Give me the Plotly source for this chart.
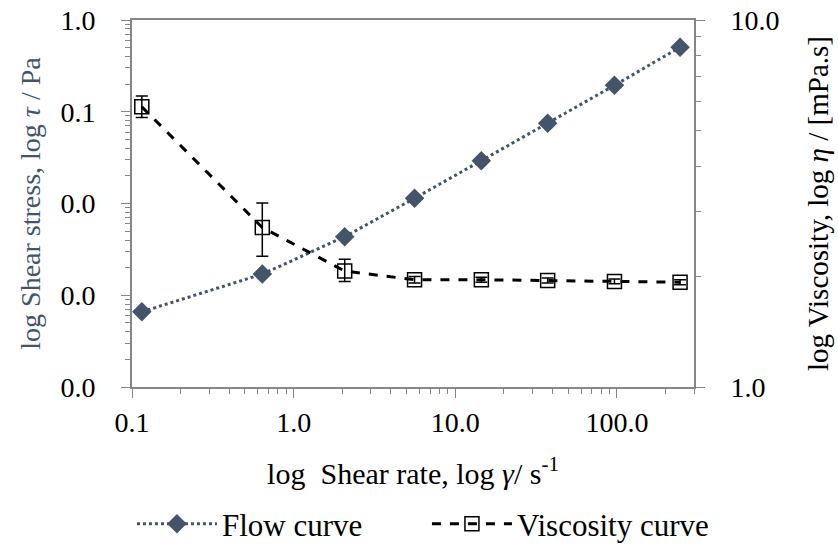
import plotly.graph_objects as go

shear_rate = [0.115, 0.64, 2.07, 5.6, 14.5, 37.3, 96.6, 246]
shear_stress = [6.6e-4, 1.7e-3, 4.35e-3, 0.0114, 0.0293, 0.075, 0.194, 0.504]
viscosity = [5.8, 2.72, 2.07, 1.96, 1.96, 1.95, 1.94, 1.93]
visc_err_plus = [0.41, 0.45, 0.16, 0.04, 0.03, 0.03, 0.03, 0.03]
visc_err_minus = [0.38, 0.45, 0.13, 0.04, 0.03, 0.03, 0.03, 0.03]

x_tickvals = [0.1, 1, 10, 100]
x_ticktext = ["0.1", "1.0", "10.0", "100.0"]
y_tickvals = [1e-4, 1e-3, 1e-2, 1e-1, 1]
y_ticktext = ["0.0", "0.0", "0.0", "0.1", "1.0"]
y2_tickvals = [1, 10]
y2_ticktext = ["1.0", "10.0"]


def minor_vals(lo_exp, hi_exp):
    return [m * 10.0 ** e for e in range(lo_exp, hi_exp) for m in range(2, 10)]


FONT = "Palatino Linotype, Book Antiqua, Liberation Serif, serif"
FLOW_COLOR = "#44546A"
AX_COLOR = "#868686"

fig = go.Figure()
fig.add_trace(go.Scatter(
    x=shear_rate, y=shear_stress, name="Flow curve", mode="lines+markers",
    line=dict(color=FLOW_COLOR, width=3, dash="dot"),
    marker=dict(symbol="diamond", size=15, color=FLOW_COLOR),
))
fig.add_trace(go.Scatter(
    x=shear_rate, y=viscosity, name="Viscosity curve", mode="lines+markers",
    yaxis="y2",
    line=dict(color="black", width=3, dash="dash"),
    marker=dict(symbol="square-open", size=14, color="black", line=dict(width=1.5)),
    error_y=dict(type="data", array=visc_err_plus, arrayminus=visc_err_minus,
                 color="black", thickness=1.5, width=6),
))


def minor(vals):
    return dict(ticks="outside", ticklen=5, tickcolor=AX_COLOR, tickwidth=1,
                tickvals=vals, showgrid=False)


fig.update_layout(
    width=838, height=548,
    margin=dict(l=132, r=144, t=20, b=161, autoexpand=False),
    paper_bgcolor="white", plot_bgcolor="white",
    font=dict(family=FONT, size=28, color="black"),
    showlegend=True,
    legend=dict(orientation="h", x=-0.0001, xanchor="left", y=-0.30, yanchor="top",
                font=dict(size=31), entrywidth=200, entrywidthmode="pixels",
                itemwidth=80, tracegroupgap=0),
    xaxis=dict(
        type="log", range=[-1, 2.4771], tickvals=x_tickvals, ticktext=x_ticktext,
        ticks="outside", ticklen=9, tickcolor=AX_COLOR, showgrid=False,
        ticklabelstandoff=0,
        showline=True, linecolor=AX_COLOR, linewidth=2, mirror=True, zeroline=False,
        minor=minor(minor_vals(-1, 3)),
        title=dict(text="log  Shear rate, log <i>γ</i>/ s<sup>-1</sup>", standoff=26,
                   font=dict(size=30)),
    ),
    yaxis=dict(
        type="log", range=[-4, 0], tickvals=y_tickvals, ticktext=y_ticktext,
        ticks="outside", ticklen=9, tickcolor=AX_COLOR, showgrid=False,
        ticklabelstandoff=20,
        showline=True, linecolor=AX_COLOR, linewidth=2, zeroline=False,
        minor=minor(minor_vals(-4, 0)),
        title=dict(text="log Shear stress, log <i>τ</i> / Pa", font=dict(color=FLOW_COLOR, size=28),
                   standoff=12),
    ),
    yaxis2=dict(
        type="log", range=[0, 1], tickvals=y2_tickvals, ticktext=y2_ticktext,
        overlaying="y", side="right",
        ticks="outside", ticklen=9, tickcolor=AX_COLOR, showgrid=False,
        ticklabelstandoff=20,
        showline=True, linecolor=AX_COLOR, linewidth=2, zeroline=False,
        minor=minor(minor_vals(0, 1)),
        title=dict(text="log Viscosity, log <i>η</i> / [mPa.s]", standoff=29, font=dict(size=29)),
    ),
)

fig.write_html("out.html")
